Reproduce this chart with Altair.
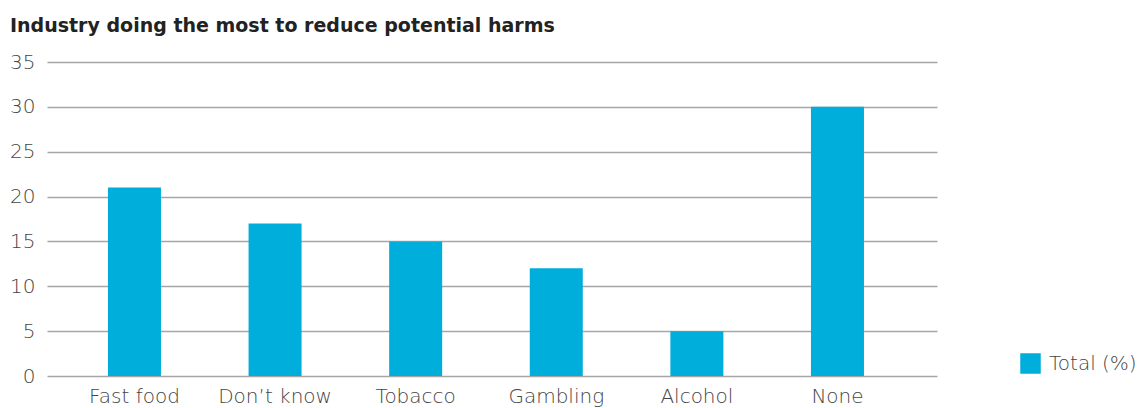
import altair as alt
import pandas as pd

categories = ["Fast food", "Don\u2019t know", "Tobacco", "Gambling", "Alcohol", "None"]
values = [21, 17, 15, 12, 5, 30]
series = ["Total (%)"] * len(categories)
y_ticks = [0, 5, 10, 15, 20, 25, 30, 35]

df = pd.DataFrame({"category": categories, "value": values, "series": series})

FONT = "DejaVu Sans"
LABEL_COLOR = "#444444"

chart = alt.Chart(df).mark_bar(color="#00AEDB").encode(
    x=alt.X("category:N", sort=categories,
            scale=alt.Scale(paddingInner=0.623, paddingOuter=0.4765, align=0.455),
            axis=alt.Axis(title=None, labelAngle=0, labelFontSize=20, labelColor=LABEL_COLOR,
                          labelFont=FONT, labelFontWeight=200, ticks=False, domain=False,
                          labelPadding=10)),
    y=alt.Y("value:Q", scale=alt.Scale(domain=[0, 35], nice=False),
            axis=alt.Axis(title=None, values=y_ticks, labelFontSize=20, labelColor=LABEL_COLOR,
                          labelFont=FONT, labelFontWeight=200, ticks=False, domain=False,
                          gridColor="#a6a6a6", gridWidth=1.6, labelPadding=12)),
    fill=alt.Fill("series:N", scale=alt.Scale(range=["#00AEDB"]),
                  legend=alt.Legend(title=None, orient="none", legendX=973, legendY=291,
                                    symbolType="square", symbolSize=420, symbolStrokeWidth=0,
                                    labelFontSize=20, labelColor=LABEL_COLOR, labelFont=FONT,
                                    labelFontWeight=200, labelOffset=8)),
).properties(
    width=890, height=314,
    title=alt.TitleParams("Industry doing the most to reduce potential harms", anchor="start",
                          frame="group", fontSize=19, fontWeight="bold", font=FONT, color="#222222",
                          dx=-37, dy=-12),
    autosize="none",
    padding={"left": 39, "top": 54, "right": 200, "bottom": 40},
).configure_view(stroke=None)

chart.save("out.html", embed_options={"renderer": "svg", "actions": False})
